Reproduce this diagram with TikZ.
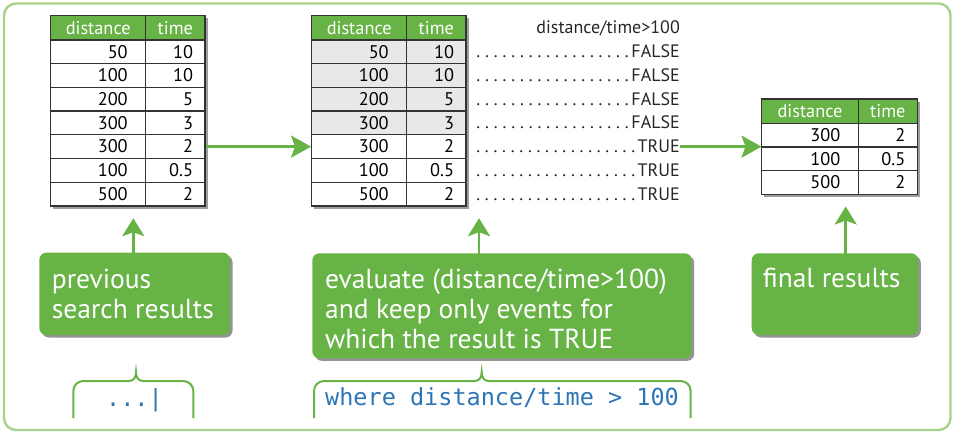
\documentclass[tikz,border=0pt]{standalone}
\usepackage{fontspec}
\setmainfont{PT Sans}
\setmonofont{DejaVu Sans Mono}
\usetikzlibrary{arrows.meta,shadows,calc}
\definecolor{sgreen}{HTML}{67B346}
\definecolor{fgreen}{HTML}{A9D18E}
\definecolor{sblue}{HTML}{2E75B6}
\definecolor{cellgray}{HTML}{E8E8E8}
\definecolor{gridc}{HTML}{333333}
\newcommand{\myleader}{\xleaders\hbox to 8.3pt{\hss.\hss}\hfill}
\tikzset{
  cell/.style={draw=gridc, line width=1.3pt, minimum height=23.7pt, inner sep=0pt,
    font=\fontsize{18.3}{20}\selectfont, text height=12.6pt, text depth=0pt},
  dcell/.style={cell, minimum width=95pt, text width=59pt, align=right},
  tcell/.style={cell, minimum width=59.5pt, text width=35.5pt, align=right},
  hcell/.style={cell, fill=sgreen, text=white, minimum height=24.3pt, align=center},
  tabbg/.style={fill=white, inner sep=0pt, drop shadow={shadow xshift=2.5pt, shadow yshift=-2.5pt, opacity=0.55, fill=black!70}},
  gbox/.style={fill=sgreen, rounded corners=7pt, inner sep=0pt,
    drop shadow={shadow xshift=2.5pt, shadow yshift=-2.5pt, opacity=0.6, fill=black!70}},
  gtext/.style={text=white, font=\fontsize{27.5}{30}\selectfont, align=left, inner sep=0pt, anchor=base west},
  harrow/.style={draw=sgreen, line width=2.8pt, -{Stealth[length=20pt, width=22pt, inset=4pt]}},
  varrow/.style={draw=sgreen, line width=2.6pt, -{Stealth[length=18pt, width=22pt, inset=4pt]}, shorten >=12pt},
  brace/.style={draw=sgreen, line width=2pt},
  codetext/.style={text=sblue, font=\ttfamily\fontsize{23.5}{26}\selectfont, inner sep=0pt, anchor=base west},
  leadtext/.style={font=\fontsize{18}{20}\selectfont, inner sep=0pt, anchor=base east, text=black!85},
}
\begin{document}
\begin{tikzpicture}[x=1pt, y=-1pt]
\useasboundingbox (0,0) rectangle (955,434);
% outer frame
\draw[fgreen, line width=2.4pt, rounded corners=12pt] (4,3.5) rectangle (950.5,430);

% ---------- table 1 ----------
\node[tabbg, minimum width=154.3pt, minimum height=190.3pt] (T1) at (127.85,110.85) {};
\node[hcell, minimum width=95pt] (ah1) at (98.2,27.85) {distance};
\node[hcell, minimum width=59.5pt] (ah2) at (175.35,27.85) {time};
\foreach \d/\t [count=\i] in {50/10,100/10,200/5,300/3,300/2,100/0.5,500/2} {
  \node[dcell] (ad\i) at (98.2,{40+23.7*(\i-0.5)}) {\d};
  \node[tcell] (at\i) at (175.35,{40+23.7*(\i-0.5)}) {\t};
}

% ---------- table 2 ----------
\node[tabbg, minimum width=154.3pt, minimum height=190.3pt] (T2) at (388.85,110.85) {};
\node[hcell, minimum width=95pt] (bh1) at (359.2,27.85) {distance};
\node[hcell, minimum width=59.5pt] (bh2) at (436.35,27.85) {time};
\foreach \d/\t/\f [count=\i] in {50/10/cellgray,100/10/cellgray,200/5/cellgray,300/3/cellgray,300/2/white,100/0.5/white,500/2/white} {
  \node[dcell, fill=\f] (bd\i) at (359.2,{40+23.7*(\i-0.5)}) {\d};
  \node[tcell, fill=\f] (bt\i) at (436.35,{40+23.7*(\i-0.5)}) {\t};
}

% leaders
\node[leadtext] (hd) at (680,33.5) {distance/time>100};
\foreach \r [count=\i] in {FALSE,FALSE,FALSE,FALSE,TRUE,TRUE,TRUE} {
  \node[leadtext] (r\i) at (680,{40+23.7*(\i-0.5)+6}) {\makebox[206pt][r]{\myleader\r}};
}

% ---------- table 3 ----------
\node[tabbg, minimum width=155.6pt, minimum height=95.3pt] (T3) at (839.5,146.65) {};
\node[hcell, minimum width=96.6pt] (ch1) at (810,111.15) {distance};
\node[hcell, minimum width=59pt] (ch2) at (887.8,111.15) {time};
\foreach \d/\t [count=\i] in {300/2,100/0.5,500/2} {
  \node[dcell, minimum width=96.6pt, text width=60.6pt] (cd\i) at (810,{123.3+23.7*(\i-0.5)}) {\d};
  \node[tcell, minimum width=59pt, text width=35pt] (ct\i) at (887.8,{123.3+23.7*(\i-0.5)}) {\t};
}

% horizontal arrows
\draw[harrow] (at5.east) -- (bd5.west);
\coordinate (a2s) at ($(r5.base east)+(0,-6)$);
\draw[harrow] (a2s) -- (a2s -| T3.west);

% ---------- green boxes ----------
\node[gbox, minimum width=190.7pt, minimum height=82.3pt] (b1) at (134.65,293.85) {};
\node[gtext] (l1) at (51.7,318) {previous\\search results};
\node[gbox, minimum width=379.4pt, minimum height=105pt] (b2) at (502,305.8) {};
\node[gtext] (l2) at (325,348) {evaluate (distance/time>100)\\and keep only events for\\which the result is TRUE};
\node[gbox, minimum width=166.6pt, minimum height=81.7pt] (b3) at (835,294.15) {};
\node[gtext] (l3) at (762.7,287.5) {final results};

% vertical arrows
\coordinate (v1) at (133.3,262);
\draw[varrow] (v1) -- (v1 |- T1.south);
\coordinate (v2) at (479,262);
\draw[varrow] (v2) -- (v2 |- T2.south);
\coordinate (v3) at (845.7,262);
\draw[varrow] (v3) -- (v3 |- T3.south);

% ---------- braces ----------
\draw[brace] (73.3,418) -- (73.3,391) arc[start angle=180, end angle=270, radius=10]
  -- (129,381) .. controls (134,381) and (136,377) .. (136,372)
  .. controls (136,377) and (138,381) .. (143,381)
  -- (183.3,381) arc[start angle=270, end angle=360, radius=10] -- (193.3,418);
\draw[brace] (314,418) -- (314,391) arc[start angle=180, end angle=270, radius=10]
  -- (474.7,381) .. controls (479.7,381) and (481.7,377) .. (481.7,372)
  .. controls (481.7,377) and (483.7,381) .. (488.7,381)
  -- (680.7,381) arc[start angle=270, end angle=360, radius=10] -- (690.7,418);
\node[codetext] (c1) at (106,406.5) {...|};
\node[codetext] (c2) at (325,405) {where distance/time > 100};
\end{tikzpicture}
\end{document}
